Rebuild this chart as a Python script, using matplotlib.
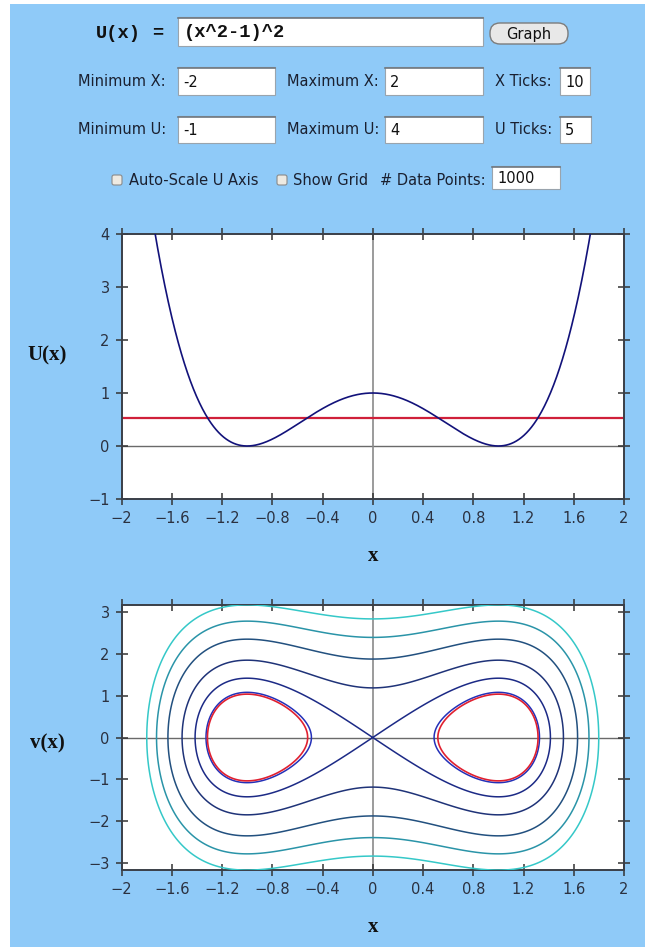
import numpy as np
import matplotlib.pyplot as plt
from matplotlib.patches import Rectangle, FancyBboxPatch

W, H = 645, 947
BG = '#8fcaf8'
INK = '#2b3140'

# values typed into the control panel
formula = '(x^2-1)^2'
x_min, x_max, x_ticks = -2, 2, 10
u_min, u_max, u_ticks = -1, 4, 5
n_points = 1000

# tick labels of both plots
x_tick_vals = [-2, -1.6, -1.2, -0.8, -0.4, 0, 0.4, 0.8, 1.2, 1.6, 2]
x_tick_text = ['−2', '−1.6', '−1.2', '−0.8', '−0.4', '0', '0.4', '0.8', '1.2', '1.6', '2']
u_tick_vals = [-1, 0, 1, 2, 3, 4]
v_tick_vals = [-3, -2, -1, 0, 1, 2, 3]
v_lim = 3.16

# energy of the red line (top) and red orbit (bottom)
energy_red = 0.535
# energies of the other orbits, inner to outer
orbit_energies = [0.58, 1.0, 1.7, 2.75, 3.85, 5.0]
orbit_colors = ['#2430b8', '#1c2a86', '#1f3378', '#22507f', '#2a94a8', '#35c8c8']


def U(x):
    # the potential typed in the formula field
    return (x**2 - 1)**2


def frac(x0, y0, x1, y1):
    # pixel box -> figure fraction
    return [x0 / W, 1 - y1 / H, (x1 - x0) / W, (y1 - y0) / H]


fig = plt.figure(figsize=(W / 100, H / 100), dpi=100, facecolor=BG)

# ---- control panel drawn in pixel coordinates ----
ui = fig.add_axes([0, 0, 1, 1])
ui.set_xlim(0, W)
ui.set_ylim(H, 0)
ui.axis('off')
ui.add_patch(Rectangle((0, 0), 10, H, color='white', lw=0))
ui.add_patch(Rectangle((0, 0), W, 4, color='white', lw=0))


def field(x0, y0, x1, y1, text, mono=False):
    ui.add_patch(Rectangle((x0, y0), x1 - x0, y1 - y0, facecolor='white',
                           edgecolor='#9aa4ad', lw=0.8))
    ui.plot([x0, x1], [y0 + 0.8, y0 + 0.8], color='#6f7880', lw=1.2)
    if mono:
        ui.text(x0 + 6, (y0 + y1) / 2 + 1, text, family='Liberation Mono',
                weight='bold', fontsize=13.5, va='center', color='#111')
    else:
        ui.text(x0 + 5, (y0 + y1) / 2 + 1, text, fontsize=10.5, va='center', color='#111')


def label(x, y, text, ha='right'):
    ui.text(x, y, text, fontsize=10.5, ha=ha, va='center', color='#1a2030')


def checkbox(x, y):
    ui.add_patch(FancyBboxPatch((x, y), 10, 10, boxstyle='round,pad=0,rounding_size=2',
                                facecolor='#eeeae2', edgecolor='#8a8a8a', lw=0.8))


ui.text(96, 33, 'U(x)', family='Liberation Mono', weight='bold', fontsize=13.5,
        va='center', color='#111')
ui.text(152, 33, '=', family='Liberation Mono', weight='bold', fontsize=13.5,
        va='center', color='#111')
field(178, 17, 483, 46, formula, mono=True)
ui.add_patch(FancyBboxPatch((490, 23), 78, 21, boxstyle='round,pad=0,rounding_size=10',
                            facecolor='#e8e8e8', edgecolor='#7c7c7c', lw=1))
ui.text(529, 34, 'Graph', fontsize=10.5, ha='center', va='center', color='#111')

label(166, 81, 'Minimum X:')
field(178, 67, 275, 95, str(x_min).replace('-', '-'))
label(379, 81, 'Maximum X:')
field(385, 67, 483, 95, str(x_max))
label(552, 81, 'X Ticks:')
field(560, 67, 590, 95, str(x_ticks))

label(166, 129, 'Minimum U:')
field(178, 116, 275, 143, str(u_min))
label(379, 129, 'Maximum U:')
field(385, 116, 483, 143, str(u_max))
label(552, 129, 'U Ticks:')
field(560, 116, 591, 143, str(u_ticks))

checkbox(112, 175)
label(129, 180, 'Auto-Scale U Axis', ha='left')
checkbox(277, 175)
label(293, 180, 'Show Grid', ha='left')
label(380, 180, '# Data Points:', ha='left')
field(492, 166, 560, 189, str(n_points))

# axis names
ser = dict(family='Liberation Serif', weight='bold', fontsize=15, color='#111',
           ha='center', va='center')
ui.text(47, 355, 'U(x)', **ser)
ui.text(373, 556, 'x', **ser)
ui.text(47, 743, 'v(x)', **ser)
ui.text(373, 927, 'x', **ser)


def style(ax, yvals, ytext):
    ax.set_facecolor('white')
    ax.set_xlim(x_min, x_max)
    ax.set_xticks(x_tick_vals, x_tick_text)
    ax.set_yticks(yvals, ytext)
    ax.tick_params(direction='inout', length=9, width=1.1, color='#333',
                   top=True, right=True, labelsize=10.5, labelcolor=INK, pad=4)
    for s in ax.spines.values():
        s.set_color('#3a3f48')
        s.set_linewidth(1.4)
    ax.axhline(0, color='#6a6a6a', lw=1, zorder=1)
    ax.axvline(0, color='#8a8a8a', lw=1.2, zorder=1)


# ---- potential ----
ax1 = fig.add_axes(frac(121.5, 234, 624, 499))
xs = np.linspace(x_min, x_max, n_points)
ax1.plot(xs, U(xs), color='#12127a', lw=1.2, zorder=3)
ax1.axhline(energy_red, color='#d0203a', lw=1.6, zorder=2)
ax1.set_ylim(u_min, u_max)
style(ax1, u_tick_vals, ['−1', '0', '1', '2', '3', '4'])

# ---- phase portrait ----
ax2 = fig.add_axes(frac(121.5, 605, 624, 870))
gx, gv = np.meshgrid(np.linspace(x_min, x_max, 1200), np.linspace(-3.3, 3.3, 1200))
energy = gv**2 / 2 + U(gx)
ax2.contour(gx, gv, energy, levels=orbit_energies, colors=orbit_colors,
            linewidths=1.1, zorder=3)
ax2.contour(gx, gv, energy, levels=[energy_red], colors=['#e02030'],
            linewidths=1.2, zorder=4)
ax2.set_ylim(-v_lim, v_lim)
style(ax2, v_tick_vals, ['−3', '−2', '−1', '0', '1', '2', '3'])

fig.savefig('out.png', dpi=100, facecolor=BG)
